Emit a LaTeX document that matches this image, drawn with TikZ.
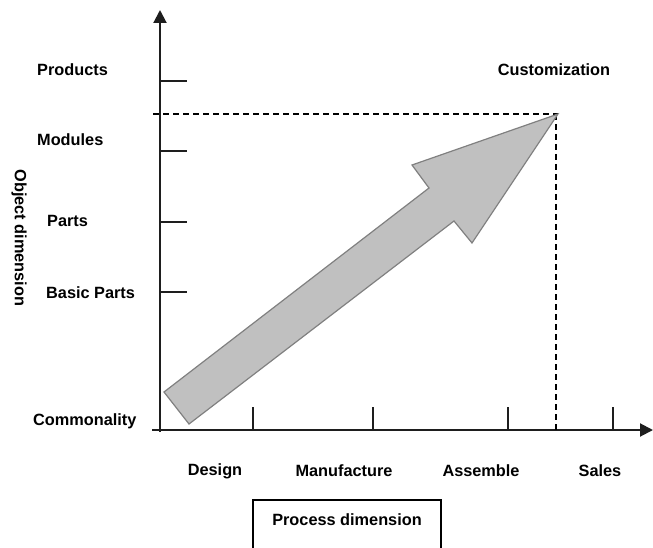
\documentclass[tikz,border=0pt]{standalone}
\usepackage{fontspec}
\setmainfont{Liberation Sans}
\usetikzlibrary{arrows.meta}
\definecolor{axisgray}{RGB}{30,30,30}
\definecolor{arrowfill}{RGB}{192,192,192}
\definecolor{arrowedge}{RGB}{128,128,128}
\begin{document}
\begin{tikzpicture}[x=1pt,y=-1pt,
  lbl/.style={font=\fontsize{16.3}{19}\selectfont\bfseries, inner sep=0pt, text=black},
  axisline/.style={draw=axisgray, line width=2pt, -{Triangle[length=13pt,width=13pt]}},
  tick/.style={draw=axisgray, line width=1.3pt},
  guide/.style={draw=black, line width=1.3pt, dash pattern=on 6pt off 4pt},
  bigarrow/.style={fill=arrowfill, draw=arrowedge, line width=1.2pt, line join=miter}]
\useasboundingbox (0,0) rectangle (653,548);

% axes
\coordinate (origin) at (160,430);
\coordinate (ytop) at (160,10);
\coordinate (ybot) at (160,432);
\coordinate (xleft) at (152,430);
\coordinate (xright) at (653,430);
\draw[axisline] (ybot) -- (ytop);
\draw[axisline] (xleft) -- (xright);

% ticks on the object axis
\foreach \y/\n in {81/t1,151/t2,222/t3,292/t4}{
  \coordinate (\n a) at (160,\y);
  \coordinate (\n b) at (187,\y);
  \draw[tick] (\n a) -- (\n b);
}
% ticks on the process axis
\foreach \x/\n in {253/p1,373/p2,508/p3,613/p4}{
  \coordinate (\n a) at (\x,407);
  \coordinate (\n b) at (\x,430);
  \draw[tick] (\n a) -- (\n b);
}

% customization guide lines
\coordinate (tip) at (558,114);
\coordinate (gl) at (153,114);
\coordinate (gb) at (556,430);
\draw[guide] (gl) -- (tip);
\draw[guide] (556,114) -- (gb);

% the big block arrow
\coordinate (tailA) at (164,392);
\coordinate (tailB) at (189,424);
\coordinate (notchL) at (429,188);
\coordinate (barbL) at (412,165);
\coordinate (barbR) at (472,243);
\coordinate (notchR) at (454,221);
\draw[bigarrow] (tailA) -- (notchL) -- (barbL) -- (tip) -- (barbR) -- (notchR) -- (tailB) -- cycle;

% object axis labels
\node[lbl, anchor=west] (products) at (37,70) {Products};
\node[lbl, anchor=west] (modules) at (37,140) {Modules};
\node[lbl, anchor=west] (parts) at (47,221) {Parts};
\node[lbl, anchor=west] (basic) at (46,293) {Basic Parts};
\node[lbl, anchor=west] (common) at (33,421) {Commonality};
\node[lbl] (custom) at (554,70) {Customization};
\node[lbl, rotate=-90] (objdim) at (19,238) {Object dimension};

% process axis labels
\node[lbl] (design) at (215,471) {Design};
\node[lbl] (manuf) at (344,471) {Manufacture};
\node[lbl] (assem) at (481,471) {Assemble};
\node[lbl] (sales) at (600,471) {Sales};

% process dimension caption in an open box
\node[lbl] (procdim) at (347,520) {Process dimension};
\coordinate (boxBL) at (253,548);
\coordinate (boxTL) at (253,500);
\coordinate (boxTR) at (441,500);
\coordinate (boxBR) at (441,548);
\draw[black, line width=1.3pt] (boxBL) -- (boxTL) -- (boxTR) -- (boxBR);
\end{tikzpicture}
\end{document}
